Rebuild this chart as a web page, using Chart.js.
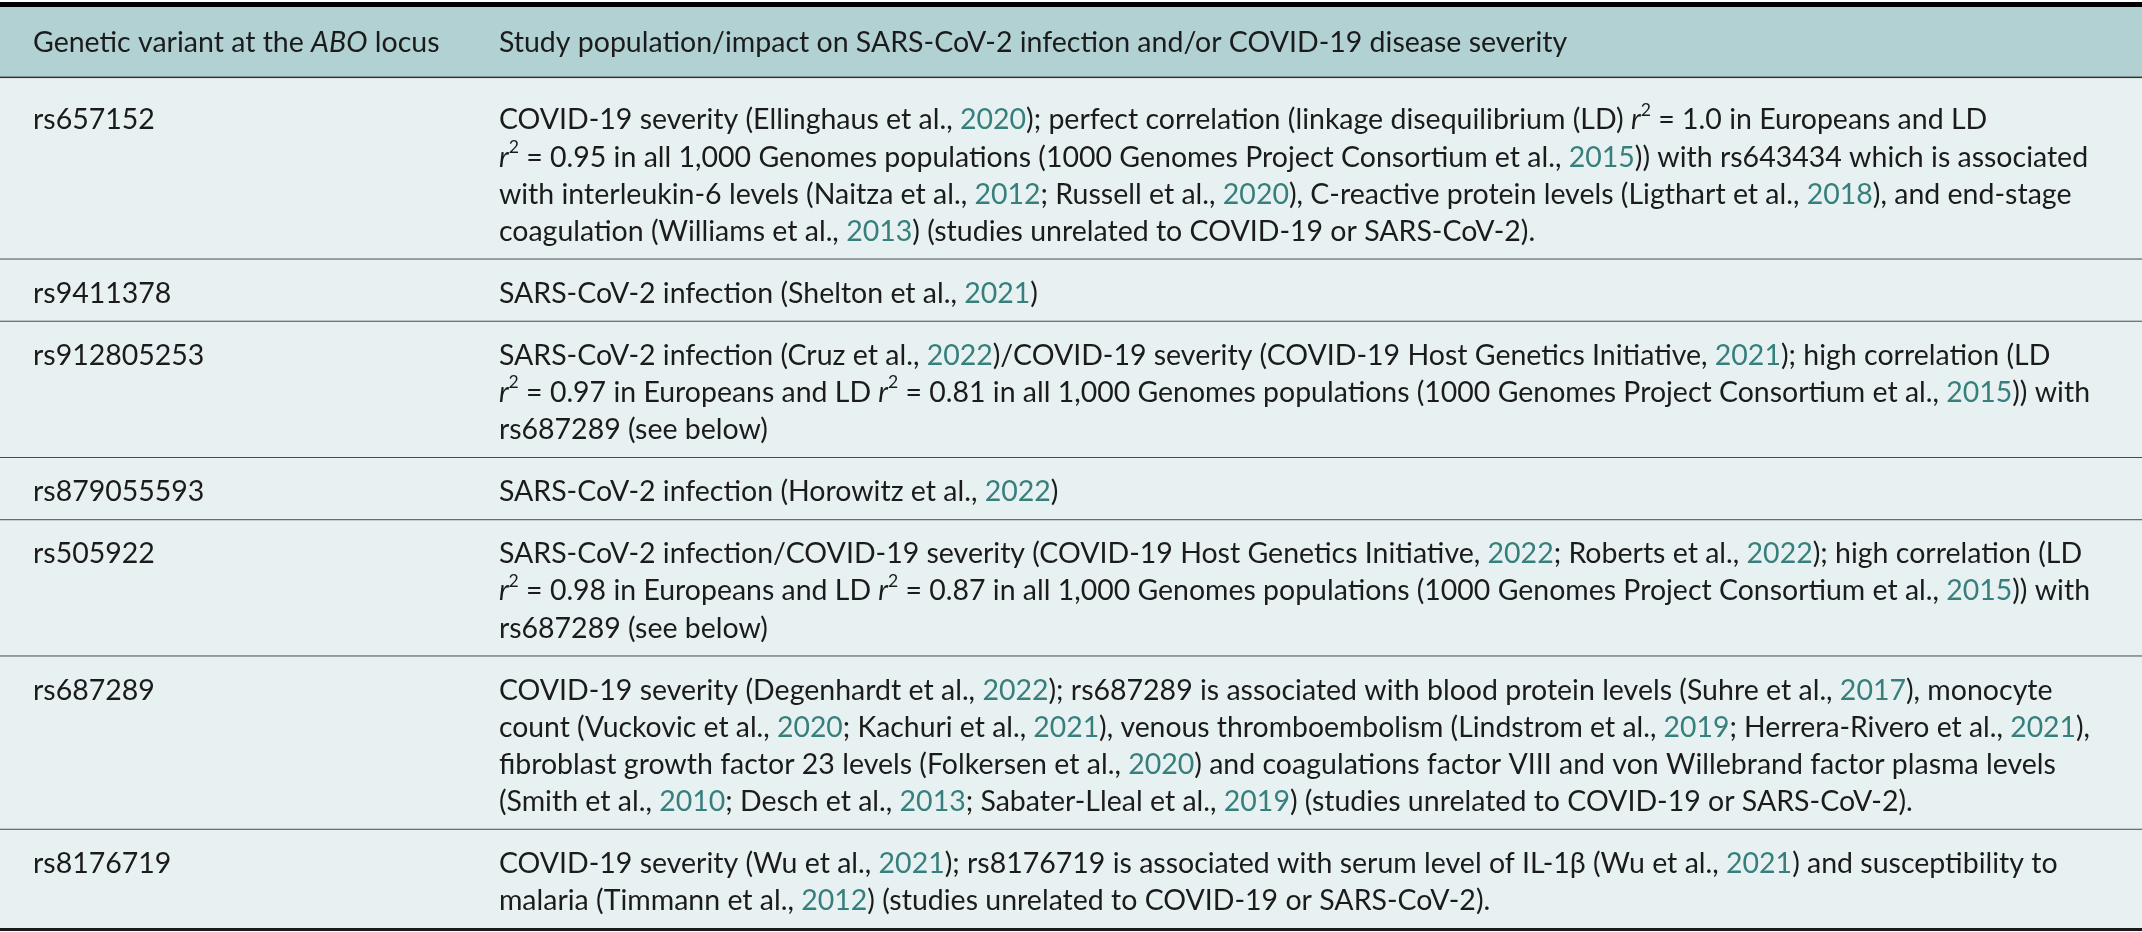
<!DOCTYPE html>
<html>
<head>
<meta charset="utf-8">
<script src="https://cdn.jsdelivr.net/npm/chart.js@4.4.1/dist/chart.umd.min.js"></script>
<style>
    html, body { margin: 0; padding: 0; background: #ffffff; }
    #wrap { width: 2142px; height: 932px; position: relative; }
</style>
</head>
<body>
<div id="wrap"><canvas id="abo-table"></canvas></div>
<script>
// Table content. Markup: {..} cited year (teal), *..* italic, ^..^ superscript
const headers = [
    'Genetic variant at the *ABO* locus',
    'Study population/impact on SARS-CoV-2 infection and/or COVID-19 disease severity'
];

const variants = ['rs657152', 'rs9411378', 'rs912805253', 'rs879055593', 'rs505922', 'rs687289', 'rs8176719'];

const impacts = [
    [
        'COVID-19 severity (Ellinghaus et al., {2020}); perfect correlation (linkage disequilibrium (LD) *r*^2^ = 1.0 in Europeans and LD',
        '*r*^2^ = 0.95 in all 1,000 Genomes populations (1000 Genomes Project Consortium et al., {2015})) with rs643434 which is associated',
        'with interleukin-6 levels (Naitza et al., {2012}; Russell et al., {2020}), C-reactive protein levels (Ligthart et al., {2018}), and end-stage',
        'coagulation (Williams et al., {2013}) (studies unrelated to COVID-19 or SARS-CoV-2).'
    ],
    [
        'SARS-CoV-2 infection (Shelton et al., {2021})'
    ],
    [
        'SARS-CoV-2 infection (Cruz et al., {2022})/COVID-19 severity (COVID-19 Host Genetics Initiative, {2021}); high correlation (LD',
        '*r*^2^ = 0.97 in Europeans and LD *r*^2^ = 0.81 in all 1,000 Genomes populations (1000 Genomes Project Consortium et al., {2015})) with',
        'rs687289 (see below)'
    ],
    [
        'SARS-CoV-2 infection (Horowitz et al., {2022})'
    ],
    [
        'SARS-CoV-2 infection/COVID-19 severity (COVID-19 Host Genetics Initiative, {2022}; Roberts et al., {2022}); high correlation (LD',
        '*r*^2^ = 0.98 in Europeans and LD *r*^2^ = 0.87 in all 1,000 Genomes populations (1000 Genomes Project Consortium et al., {2015})) with',
        'rs687289 (see below)'
    ],
    [
        'COVID-19 severity (Degenhardt et al., {2022}); rs687289 is associated with blood protein levels (Suhre et al., {2017}), monocyte',
        'count (Vuckovic et al., {2020}; Kachuri et al., {2021}), venous thromboembolism (Lindstrom et al., {2019}; Herrera-Rivero et al., {2021}),',
        'fibroblast growth factor 23 levels (Folkersen et al., {2020}) and coagulations factor VIII and von Willebrand factor plasma levels',
        '(Smith et al., {2010}; Desch et al., {2013}; Sabater-Lleal et al., {2019}) (studies unrelated to COVID-19 or SARS-CoV-2).'
    ],
    [
        'COVID-19 severity (Wu et al., {2021}); rs8176719 is associated with serum level of IL-1β (Wu et al., {2021}) and susceptibility to',
        'malaria (Timmann et al., {2012}) (studies unrelated to COVID-19 or SARS-CoV-2).'
    ]
];

// Layout/styling (vertical values are in line units of the y scale)
const STYLE = {
    font: 'Lato, "Noto Sans", sans-serif',
    fontSize: 28.5,
    text: '#1b1b1b',
    year: '#367f7d',
    headerBg: '#b2d1d3',
    bodyBg: '#e8f1f1',
    headPad: [0.47, 0.45],
    rowPad: [0.42, 0.26],
    supExtra: 0.22,     // extra room above a first line carrying a superscript
    colSplit: 0.2175,   // start of second column, fraction of width
    cellPadX: 33,
    rightLimit: 52      // lines longer than this margin get condensed
};

const rows = [{ header: true, cells: headers.map(h => [h]) }]
    .concat(variants.map((v, i) => ({ header: false, cells: [[v], impacts[i]] })));

rows.forEach(r => {
    const pad = r.header ? STYLE.headPad : STYLE.rowPad;
    const lines = Math.max(...r.cells.map(c => c.length));
    const sup = r.cells.some(c => c[0].includes('^'));
    r.padTop = pad[0] + (sup ? STYLE.supExtra : 0);
    r.units = r.padTop + lines + pad[1];
});
const totalUnits = rows.reduce((s, r) => s + r.units, 0);

function parseRich(str) {
    const segs = [];
    const re = /\{([^}]*)\}|\*([^*]*)\*|\^([^^]*)\^|([^{*^]+)/g;
    let m;
    while ((m = re.exec(str))) {
        if (m[1] !== undefined) segs.push({ text: m[1], color: STYLE.year });
        else if (m[2] !== undefined) segs.push({ text: m[2], italic: true });
        else if (m[3] !== undefined) segs.push({ text: m[3], sup: true });
        else segs.push({ text: m[4] });
    }
    return segs;
}

function segFont(seg) {
    const size = seg.sup ? STYLE.fontSize * 0.62 : STYLE.fontSize;
    return `${seg.italic ? 'italic ' : ''}${size}px ${STYLE.font}`;
}

function drawRich(ctx, str, x, y, maxWidth) {
    const segs = parseRich(str);
    let total = 0;
    segs.forEach(s => { ctx.font = segFont(s); s.w = ctx.measureText(s.text).width; total += s.w; });
    const k = total > maxWidth ? maxWidth / total : 1;

    ctx.save();
    ctx.translate(x, y);
    ctx.scale(k, 1);
    let cx = 0;
    segs.forEach(s => {
        ctx.font = segFont(s);
        ctx.fillStyle = s.color || STYLE.text;
        ctx.fillText(s.text, cx, s.sup ? -STYLE.fontSize * 0.36 : 0);
        cx += s.w;
    });
    ctx.restore();
}

const tablePlugin = {
    id: 'tablePlugin',
    beforeDraw(chart) {
        const { ctx, scales: { x, y } } = chart;
        const left = x.getPixelForValue(0);
        const right = x.getPixelForValue(1);
        const split = x.getPixelForValue(STYLE.colSplit);
        const colX = [left + STYLE.cellPadX, split + STYLE.cellPadX];
        const colW = [split - colX[0] - 10, right - STYLE.rightLimit - colX[1]];

        ctx.save();
        ctx.textBaseline = 'middle';

        let start = 0;
        rows.forEach((row, ri) => {
            const top = y.getPixelForValue(start);
            const bottom = y.getPixelForValue(start + row.units);
            ctx.fillStyle = row.header ? STYLE.headerBg : STYLE.bodyBg;
            ctx.fillRect(left, top, right - left, bottom - top);

            row.cells.forEach((lines, ci) => {
                lines.forEach((line, li) => {
                    const ly = y.getPixelForValue(start + row.padTop + li + 0.5);
                    drawRich(ctx, line, colX[ci], ly, colW[ci]);
                });
            });

            // rule under the row
            if (ri < rows.length - 1) {
                ctx.fillStyle = row.header ? '#333333' : '#4a4a4a';
                const h = row.header ? 3 : 2;
                ctx.fillRect(left, bottom - h / 2, right - left, h);
            }
            start += row.units;
        });

        // top and bottom rules
        const tableTop = y.getPixelForValue(0);
        const tableBottom = y.getPixelForValue(totalUnits);
        ctx.fillStyle = '#000000';
        ctx.fillRect(left, tableTop - 5, right - left, 5);
        ctx.fillStyle = '#1a1a1a';
        ctx.fillRect(left, tableBottom - 1, right - left, 3);
        ctx.restore();
    }
};

new Chart(document.getElementById('abo-table'), {
    type: 'scatter',
    data: { datasets: [] },
    options: {
        responsive: true,
        maintainAspectRatio: false,
        animation: false,
        layout: { padding: { top: 7, bottom: 3, left: 0, right: 0 } },
        plugins: {
            legend: { display: false },
            tooltip: { enabled: false }
        },
        scales: {
            x: { type: 'linear', min: 0, max: 1, display: false },
            y: { type: 'linear', reverse: true, min: 0, max: totalUnits, display: false }
        }
    },
    plugins: [tablePlugin]
});
</script>
</body>
</html>
